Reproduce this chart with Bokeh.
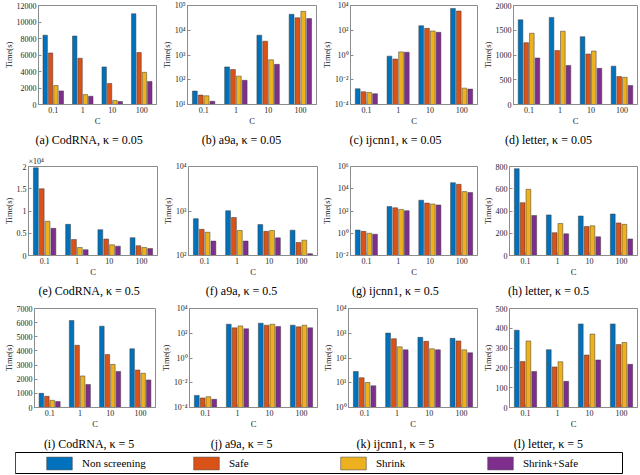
from bokeh.plotting import figure
from bokeh.models import (Range1d, FactorRange, FixedTicker, Legend, Title,
                          LegendItem, ColumnDataSource)
from bokeh.core.properties import value
from bokeh.transform import dodge
from bokeh.layouts import column, row
from bokeh.embed import file_html
from bokeh.resources import INLINE

# ---------------- data ----------------
categories = ["0.1", "1", "10", "100"]
series_names = ["Non screening", "Safe", "Shrink", "Shrink+Safe"]
series_colors = ["#0072BD", "#D95319", "#EDB120", "#7E2F8E"]

# rows: Non screening, Safe, Shrink, Shrink+Safe ; columns: C = 0.1, 1, 10, 100
codrna_k005 = [[8400, 8300, 4550, 11000], [6250, 5600, 2550, 6300],
               [2300, 1200, 500, 3900], [1650, 1000, 350, 2800]]
a9a_k005 = [[35, 330, 6300, 44000], [24, 258, 3600, 32000],
            [22.5, 140, 640, 58000], [13.5, 95, 420, 29500]]
ijcnn1_k005 = [[1.85e-3, 0.81, 231, 5800], [1.07e-3, 0.47, 142, 3560],
               [9.5e-4, 1.78, 87, 2.1e-3], [7.4e-4, 1.68, 68, 1.75e-3]]
letter_k005 = [[1710, 1760, 1370, 775], [1250, 1090, 1020, 565],
               [1440, 1480, 1080, 550], [940, 790, 730, 385]]
codrna_k05 = [[19700, 7000, 5800, 4000], [15000, 3600, 3700, 2200],
              [7700, 1800, 2400, 1800], [6100, 1300, 2100, 1550]]
a9a_k05 = [[673, 1015, 495, 371], [388, 714, 349, 196],
           [333, 365, 365, 221], [211, 211, 249, 110]]
ijcnn1_k05 = [[1.93, 251, 936, 34900], [1.48, 193, 518, 25100],
              [1.0, 139, 425, 5530], [0.82, 107, 349, 4540]]
letter_k05 = [[780, 365, 355, 373], [475, 205, 261, 293],
              [595, 288, 267, 280], [360, 195, 168, 149]]
codrna_k5 = [[1000, 6150, 5750, 4150], [790, 4400, 3750, 2650],
             [510, 2230, 3050, 2420], [420, 1630, 2550, 1950]]
a9a_k5 = [[9.5e-4, 535, 643, 446], [5.9e-4, 273, 446, 329],
          [7.5e-4, 394, 535, 446], [4.6e-4, 228, 349, 273]]
ijcnn1_k5 = [[28.6, 1015, 683, 623], [16, 604, 473, 489],
             [10.2, 282, 235, 214], [7.5, 214, 214, 163]]
letter_k5 = [[390, 292, 422, 422], [232, 205, 265, 318],
             [336, 231, 371, 328], [182, 132, 240, 218]]

captions = [["(a) CodRNA, κ = 0.05", "(b) a9a, κ = 0.05", "(c) ijcnn1, κ = 0.05", "(d) letter, κ = 0.05"],
            ["(e) CodRNA, κ = 0.5", "(f) a9a, κ = 0.5", "(g) ijcnn1, κ = 0.5", "(h) letter, κ = 0.5"],
            ["(i) CodRNA, κ = 5", "(j) a9a, κ = 5", "(k) ijcnn1, κ = 5", "(l) letter, κ = 5"]]

# axis specs: (log?, ymin, ymax, ticks)  (log ticks given as exponents)
axis_specs = [
    (False, 0, 12000, [0, 2000, 4000, 6000, 8000, 10000, 12000]),
    (True, 1e1, 1e5, [1, 2, 3, 4, 5]),
    (True, 1e-4, 1e4, [-4, -2, 0, 2, 4]),
    (False, 0, 2000, [0, 500, 1000, 1500, 2000]),
    (False, 0, 20000, [0, 5000, 10000, 15000, 20000]),
    (True, 1e2, 1e4, [2, 3, 4]),
    (True, 1e-2, 1e6, [-2, 0, 2, 4, 6]),
    (False, 0, 800, [0, 200, 400, 600, 800]),
    (False, 0, 7000, [0, 1000, 2000, 3000, 4000, 5000, 6000, 7000]),
    (True, 1e-4, 1e4, [-4, -2, 0, 2, 4]),
    (True, 1e0, 1e4, [0, 1, 2, 3, 4]),
    (False, 0, 500, [0, 100, 200, 300, 400, 500]),
]
e_tick_labels = ["0", "0.5", "1", "1.5", "2"]

datasets = [codrna_k005, a9a_k005, ijcnn1_k005, letter_k005,
            codrna_k05, a9a_k05, ijcnn1_k05, letter_k05,
            codrna_k5, a9a_k5, ijcnn1_k5, letter_k5]

# ---------------- layout (pixels) ----------------
widths = [[158, 160, 161, 160], [159, 160, 160, 160], [157, 162, 160, 160]]
lefts = [[33, 26, 30, 31], [25, 26, 29, 28], [29, 26, 29, 23]]
tops = [[5, 5, 5, 5], [16, 7, 14, 7], [8, 8, 8, 8]]
row_heights = [128, 129, 131]
BOTTOM = 22
strip_heights = [22, 21, 20]
strip_text_y = [11, 10, 8]
caption_centers = [77.5, 238.0, 400.0, 561.0]
TOTAL_W = 639

FONT = "Liberation Serif"
AXCOL = "#8c8c8c"
TXTCOL = "#262626"
SUP = str.maketrans("-0123456789", "⁻⁰¹²³⁴⁵⁶⁷⁸⁹")
offsets = [(i - 1.5) * 0.1818 for i in range(4)]


def caption_strip(texts, h, ty):
    s = figure(width=TOTAL_W, height=h, x_range=Range1d(0, TOTAL_W), y_range=Range1d(0, h),
               toolbar_location=None, output_backend="svg",
               x_axis_location=None, y_axis_location=None,
               min_border_left=0, min_border_right=0, min_border_top=0, min_border_bottom=0)
    s.xgrid.visible = False
    s.ygrid.visible = False
    s.outline_line_color = None
    s.text(x=caption_centers, y=[ty] * 4, text=texts, text_align="center",
           text_baseline="middle", text_font=value(FONT), text_font_size="12px",
           text_color="black")
    return s


def style_axis(ax):
    ax.axis_line_color = AXCOL
    ax.major_tick_line_color = AXCOL
    ax.major_tick_in = 3
    ax.major_tick_out = 0
    ax.minor_tick_line_color = None
    ax.major_label_text_font = FONT
    ax.major_label_text_font_size = "8px"
    ax.major_label_text_color = TXTCOL
    ax.major_label_standoff = 2
    ax.axis_label_text_font = FONT
    ax.axis_label_text_font_size = "8.5px"
    ax.axis_label_text_font_style = "normal"
    ax.axis_label_text_color = TXTCOL
    ax.axis_label_standoff = 0


blocks = []
for r in range(3):
    figs = []
    for c in range(4):
        k = r * 4 + c
        is_log, ymin, ymax, ticks = axis_specs[k]
        p = figure(width=widths[r][c], height=row_heights[r],
                   x_range=FactorRange(*categories),
                   y_range=Range1d(ymin, ymax),
                   y_axis_type="log" if is_log else "linear",
                   toolbar_location=None, output_backend="svg",
                   min_border_left=lefts[r][c], min_border_right=2,
                   min_border_top=tops[r][c], min_border_bottom=BOTTOM)
        p.outline_line_color = AXCOL
        p.outline_line_width = 1
        p.xgrid.visible = False
        p.ygrid.visible = False
        data = datasets[k]
        for i in range(4):
            src = ColumnDataSource(dict(cat=categories, val=data[i]))
            p.vbar(x=dodge("cat", offsets[i], range=p.x_range), top="val",
                   bottom=ymin, width=0.15, source=src,
                   fill_color=series_colors[i], line_color="#3a3a3a", line_width=0.5)
        if is_log:
            vals = [10.0 ** e for e in ticks]
            p.yaxis.ticker = FixedTicker(ticks=vals)
            p.yaxis.major_label_overrides = {v: "10" + str(e).translate(SUP) for v, e in zip(vals, ticks)}
        else:
            p.yaxis.ticker = FixedTicker(ticks=ticks)
            if k == 4:
                p.yaxis.major_label_overrides = {t: s for t, s in zip(ticks, e_tick_labels)}
        style_axis(p.xaxis[0])
        style_axis(p.yaxis[0])
        p.xaxis.axis_label = "C"
        p.yaxis.axis_label = "Time(s)"
        if k == 4:
            p.add_layout(Title(text="×10⁴", align="left", offset=0, standoff=1,
                               text_font=FONT, text_font_size="8px",
                               text_font_style="normal", text_color=TXTCOL), "above")
        figs.append(p)
    blocks.append(row(*figs))
    blocks.append(caption_strip(captions[r], strip_heights[r], strip_text_y[r]))

# ---------------- legend ----------------
lg = figure(width=TOTAL_W, height=23, x_range=Range1d(0, 1), y_range=Range1d(0, 1),
            toolbar_location=None, output_backend="svg",
            x_axis_location=None, y_axis_location=None,
            min_border_left=15, min_border_right=17, min_border_top=1, min_border_bottom=0)
lg.xgrid.visible = False
lg.ygrid.visible = False
lg.outline_line_color = "black"
lg.outline_line_width = 1
items = []
for name, col in zip(series_names, series_colors):
    rr = lg.vbar(x=[-10], top=[1], width=0.1, fill_color=col, line_color="#3a3a3a", line_width=0.5)
    items.append(LegendItem(label=name, renderers=[rr]))
legend = Legend(items=items, orientation="horizontal", location=(28, 3),
                glyph_width=32, glyph_height=16, label_standoff=7, label_width=100,
                spacing=8, padding=0, margin=0, border_line_alpha=0,
                background_fill_alpha=0, label_text_font=FONT,
                label_text_font_size="11px", label_text_color="black")
lg.add_layout(legend)
blocks.append(lg)

layout = column(*blocks)
open("out.html", "w").write(file_html(layout, INLINE))
